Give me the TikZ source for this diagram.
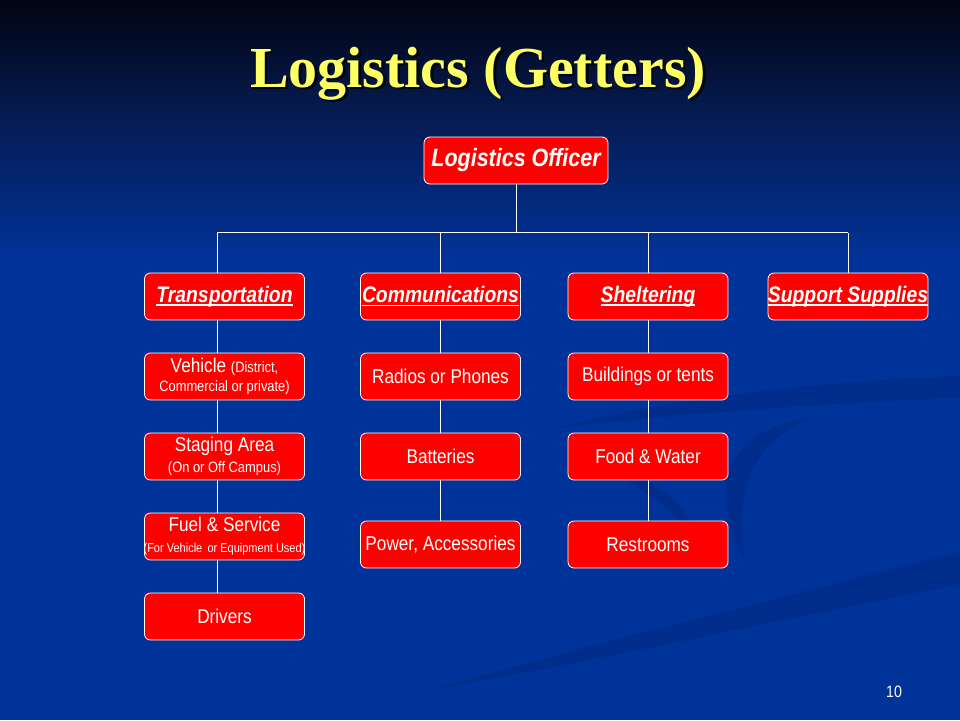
\documentclass[tikz,border=0pt]{standalone}
\usepackage{fontspec}
\setmainfont{Liberation Sans}[FakeStretch=0.86]
\newfontfamily\titlefont{Liberation Serif}
\usetikzlibrary{positioning}

\definecolor{slide_blue}{RGB}{0,51,153}
\definecolor{slide_navy}{RGB}{6,28,84}
\definecolor{slide_black}{RGB}{2,5,18}
\definecolor{swoosh_blue}{RGB}{0,38,120}
\definecolor{box_red}{RGB}{255,0,0}
\definecolor{title_yellow}{RGB}{255,255,102}

\newcommand{\headtext}[1]{\setbox0\hbox{#1}\rlap{\rule[-3.5pt]{\wd0}{1.8pt}}\box0}
\newcommand{\smalltext}{\fontsize{15}{17}\selectfont}
\newcommand{\tinytext}{\fontsize{12.8}{15}\selectfont}
\newcommand{\fitline}[1]{\makebox[150pt][c]{#1}}

\begin{document}
\begin{tikzpicture}[ % one unit is one pixel of the slide, y runs down
x=1pt, y=-1pt,
red_box/.style={rectangle, rounded corners=6pt, draw=white, line width=0.8pt, fill=box_red, text=white, minimum width=160pt, minimum height=47pt, inner sep=1pt, align=center, font=\fontsize{20}{22}\selectfont},
head_box/.style={red_box, font=\bfseries\itshape\fontsize{22.5}{24}\selectfont},
link/.style={draw=white, line width=1pt},
swoosh/.style={fill=swoosh_blue, opacity=0.4, draw=none}
]

% background
\useasboundingbox (0,0) rectangle (960,720);
\fill[slide_blue] (0,0) rectangle (960,720);
\shade[top color=slide_black, bottom color=slide_navy] (0,0) rectangle (960,120);
\shade[top color=slide_navy, bottom color=slide_blue] (0,120) rectangle (960,260);
\fill[swoosh] (555,428) .. controls (700,392) and (850,380) .. (960,376) -- (960,398) .. controls (850,402) and (700,412) .. (555,428);
\fill[swoosh] (810,418) .. controls (730,430) and (705,480) .. (745,562) .. controls (735,490) and (750,445) .. (810,418);
\fill[swoosh] (560,448) .. controls (650,468) and (700,510) .. (705,560) .. controls (690,520) and (640,480) .. (560,448);
\fill[swoosh] (430,690) .. controls (600,642) and (800,592) .. (960,552) -- (960,584) .. controls (800,616) and (600,660) .. (430,690);

% title
\node[anchor=base, text=black, opacity=0.7, font=\titlefont\bfseries\fontsize{58}{62}\selectfont] (title_shadow) at (480.5,89.5) {Logistics (Getters)};
\node[anchor=base, text=title_yellow, font=\titlefont\bfseries\fontsize{58}{62}\selectfont] (title) at (478,87) {Logistics (Getters)};

% \node[type](name) at (x,y) {text}
\node[head_box, minimum width=184pt, font=\bfseries\itshape\fontsize{25}{27}\selectfont] (officer) at (516,160.5) {Logistics Officer};

\node[head_box](transport) at (224.5,296.5) {\headtext{Transportation}};
\node[head_box](comms) at (440.5,296.5) {\fitline{\headtext{Communications}}};
\node[head_box](shelter) at (648,296.5) {\headtext{Sheltering}};
\node[head_box](support) at (848,296.5) {\fitline{\headtext{Support Supplies}}};

\node[red_box](vehicle) at (224.5,376.5) {Vehicle {\smalltext(District,}\\[-3pt]{\smalltext Commercial or private)}};
\node[red_box](staging) at (224.5,456.5) {Staging Area\\[-1pt]{\smalltext(On or Off Campus)}};
\node[red_box](fuel) at (224.5,536.5) {Fuel \& Service\\[-1pt]\fitline{\tinytext(For Vehicle\, or Equipment Used)}};
\node[red_box](drivers) at (224.5,616.5) {Drivers};

\node[red_box](radios) at (440.5,376.5) {Radios or Phones};
\node[red_box](batteries) at (440.5,456.5) {Batteries};
\node[red_box](power) at (440.5,544.5) {\fitline{Power, Accessories}};

\node[red_box](buildings) at (648,376.5) {Buildings or tents};
\node[red_box](food) at (648,456.5) {Food \& Water};
\node[red_box](restrooms) at (648,544.5) {Restrooms};

\node[text=white, font=\fontsize{16.5}{18}\selectfont] (page_number) at (894,692) {10};

% connectors
\coordinate (bus_left) at (217,232.5);
\coordinate (bus_right) at (848,232.5);

\draw[link] (officer.south) -- (officer.south |- bus_left);
\draw[link] (bus_left) -- (bus_right);
\draw[link] (bus_left) -- (bus_left |- transport.north);
\draw[link] (comms.north |- bus_left) -- (comms.north);
\draw[link] (shelter.north |- bus_left) -- (shelter.north);
\draw[link] (bus_right) -- (support.north);

\foreach \upper/\lower in {transport/vehicle, vehicle/staging, staging/fuel, fuel/drivers}
  \draw[link] (bus_left |- \upper.south) -- (bus_left |- \lower.north);
\foreach \upper/\lower in {comms/radios, radios/batteries, batteries/power, shelter/buildings, buildings/food, food/restrooms}
  \draw[link] (\upper) -- (\lower);

\end{tikzpicture}
\end{document}
